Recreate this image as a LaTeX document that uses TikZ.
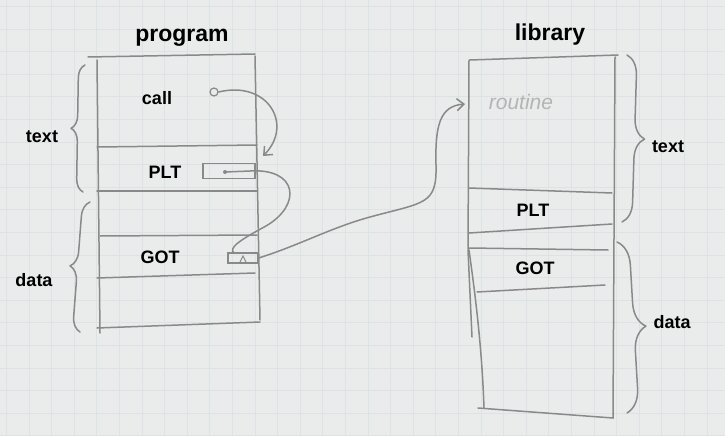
\documentclass[tikz,border=0pt]{standalone}
\usepackage{fontspec}
\setmainfont{Liberation Sans}
\usetikzlibrary{arrows.meta,decorations.pathreplacing}
\definecolor{paper}{HTML}{EAECEB}
\definecolor{gridc}{HTML}{DCE3E7}
\definecolor{pencilc}{HTML}{898989}
\definecolor{faint}{HTML}{B4B4B4}
\begin{document}
\begin{tikzpicture}[x=1pt,y=-1pt,
  pencil/.style={draw=pencilc, line width=1.5pt, line cap=round, line join=round},
  lbl/.style={font=\fontsize{18}{20}\selectfont\bfseries, text=black, inner sep=0pt},
  ttl/.style={font=\fontsize{23}{26}\selectfont\bfseries, text=black, inner sep=0pt},
  brc/.style={pencil, decorate, decoration={brace, amplitude=#1}},
  arr/.style={pencil, -{Straight Barb[length=7pt,width=12pt]}},
  slot/.style={draw=pencilc, line width=1.3pt, rectangle, inner sep=0pt}]
\useasboundingbox (0,0) rectangle (725,436);
\fill[paper] (0,0) rectangle (725,436);
\foreach \i in {-13,...,19} \draw[gridc, line width=0.4pt] ({300+\i*22.6},0) -- ({300+\i*22.6},436);
\foreach \j in {-13,...,6} \draw[gridc, line width=0.4pt] (0,{300+\j*22.6}) -- (725,{300+\j*22.6});

% ---------- program ----------
\node[ttl] (progtitle) at (182,38) {program};
\draw[pencil] (88,57) -- (255,54);
\draw[pencil] (97,60) -- (100,333);
\draw[pencil] (255,56) -- (260,320);
\draw[pencil] (97,328) -- (260,322);
\draw[pencil] (97,147) -- (257,145);
\draw[pencil] (97,191) -- (257,191);
\draw[pencil] (100,236) -- (257,235);
\draw[pencil] (97,278) -- (255,273);

\node[lbl] (pcall) at (157,98) {call};
\node[lbl] (pplt) at (165,172) {PLT};
\node[lbl] (pgot) at (160,257) {GOT};
\node[lbl] (ptext) at (42,137) {text};
\node[lbl] (pdata) at (34,280) {data};

\draw[brc=13pt] (83,192) -- (85,65);
\draw[brc=15pt] (80,332) -- (90,202);

\node[draw=pencilc, circle, minimum size=8pt, inner sep=0pt, line width=1.2pt] (callc) at (214,92) {};
\node[slot, minimum width=52pt, minimum height=15pt] (pltslot) at (229,171) {};
\coordinate (pltdot) at (225,172);
\fill[pencilc] (pltdot) circle (2pt);
\node[slot, minimum width=30pt, minimum height=10pt] (gotslot) at (243,258) {};
\draw[pencilc, line width=1pt] (240,262) -- (243,256) -- (246,262);
\coordinate (cplt) at (263,156);
\coordinate (gotin) at (234,253);

% ---------- library ----------
\node[ttl] (libtitle) at (550,35) {library};
\draw[pencil] (470,60) -- (618,55);
\draw[pencil] (469,60) -- (468,250) -- (472,337);
\draw[pencil] (469,250) .. controls (476,300) and (482,350) .. (484,408);
\draw[pencil] (615,57) -- (613,418);
\draw[pencil] (478,408) -- (613,418);
\draw[pencil] (469,188) -- (612,193);
\draw[pencil] (469,233) -- (612,224);
\draw[pencil] (469,248) -- (608,250);
\draw[pencil] (477,292) -- (605,285);

\node[font=\itshape\fontsize{21}{24}\selectfont, text=faint, inner sep=0pt] (routine) at (521,102) {routine};
\coordinate (routin) at (465,104);
\node[lbl] (lplt) at (533,210) {PLT};
\node[lbl] (lgot) at (535,268) {GOT};
\node[lbl] (ltext) at (668,147) {text};
\node[lbl] (ldata) at (672,322) {data};

\draw[brc=20pt] (627,55) -- (622,222);
\draw[brc=24pt] (617,242) -- (627,413);

% ---------- connectors ----------
\draw[arr] (callc.east) .. controls (268,80) and (294,125) .. (cplt);
\draw[pencil] (pltdot) -- (250,171) .. controls (298,168) and (302,205) .. (266,226) .. controls (240,240) and (228,248) .. (gotin);
\draw[arr] (gotslot.east) .. controls (300,245) and (330,228) .. (370,217) .. controls (425,202) and (437,205) .. (436,165) .. controls (435,125) and (440,106) .. (routin);
\end{tikzpicture}
\end{document}
